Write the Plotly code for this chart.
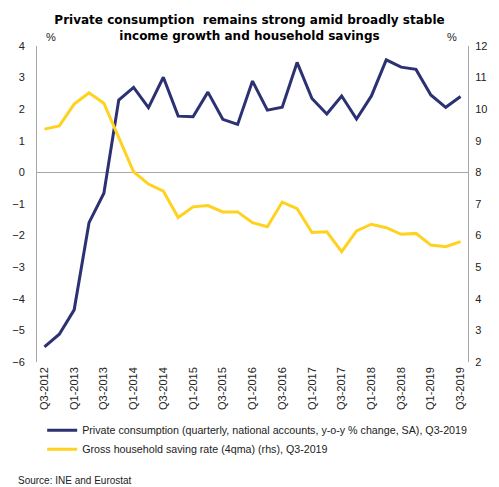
import plotly.graph_objects as go

quarters = ["Q3-2012", "Q4-2012", "Q1-2013", "Q2-2013", "Q3-2013", "Q4-2013",
            "Q1-2014", "Q2-2014", "Q3-2014", "Q4-2014", "Q1-2015", "Q2-2015",
            "Q3-2015", "Q4-2015", "Q1-2016", "Q2-2016", "Q3-2016", "Q4-2016",
            "Q1-2017", "Q2-2017", "Q3-2017", "Q4-2017", "Q1-2018", "Q2-2018",
            "Q3-2018", "Q4-2018", "Q1-2019", "Q2-2019", "Q3-2019"]

private_consumption = [-5.52, -5.12, -4.35, -1.59, -0.66, 2.29, 2.69, 2.05, 3.01, 1.78,
                       1.76, 2.54, 1.68, 1.52, 2.89, 1.97, 2.06, 3.48, 2.34, 1.85,
                       2.42, 1.69, 2.42, 3.56, 3.33, 3.26, 2.45, 2.06, 2.40]

saving_rate = [9.37, 9.47, 10.16, 10.52, 10.19, 9.13, 8.02, 7.63, 7.41, 6.57,
               6.91, 6.95, 6.75, 6.75, 6.41, 6.28, 7.06, 6.85, 6.10, 6.12,
               5.49, 6.15, 6.36, 6.25, 6.04, 6.07, 5.70, 5.65, 5.81]

tick_labels = quarters[::2]

name1 = "Private consumption (quarterly, national accounts, y-o-y % change, SA), Q3-2019"
name2 = "Gross household saving rate (4qma) (rhs), Q3-2019"

fig = go.Figure()
fig.add_trace(go.Scatter(x=quarters, y=private_consumption, name=name1, mode="lines",
                         line=dict(color="#2B3172", width=3)))
fig.add_trace(go.Scatter(x=quarters, y=saving_rate, name=name2, mode="lines", yaxis="y2",
                         line=dict(color="#FFD21F", width=3)))

axis_grey = "#A6A6A6"
fig.update_layout(
    width=499, height=487,
    margin=dict(l=31, r=26, t=46, b=125),
    paper_bgcolor="white", plot_bgcolor="white",
    font=dict(family="Liberation Sans, Arial, sans-serif", size=11, color="#222222"),
    title=dict(text="<b>Private consumption  remains strong amid broadly stable<br>income growth and household savings</b>",
               x=0.5, xanchor="center", y=0.95, yanchor="top",
               font=dict(family="DejaVu Sans, Verdana, sans-serif", size=12, color="black")),
    xaxis=dict(type="category", categoryorder="array", categoryarray=quarters,
               range=[-0.5, len(quarters) - 0.5],
               tickmode="array", tickvals=tick_labels, ticktext=tick_labels,
               tickangle=-90, tickfont=dict(size=11), showgrid=False, showline=False,
               zeroline=False, ticks="", ticklabelstandoff=2),
    yaxis=dict(range=[-6, 4], dtick=1, showgrid=False, zeroline=True, zerolinecolor=axis_grey,
               zerolinewidth=1, showline=True, linecolor=axis_grey, linewidth=1,
               ticks="", ticklabelstandoff=9),
    yaxis2=dict(range=[2, 12], dtick=1, overlaying="y", side="right", showgrid=False,
                zeroline=False, showline=True, linecolor=axis_grey, linewidth=1,
                ticks="", ticklabelstandoff=4),
    showlegend=True,
    legend=dict(x=0.012, y=-0.17, xanchor="left", yanchor="top", orientation="v",
                font=dict(size=10.7), bgcolor="rgba(0,0,0,0)", itemwidth=30),
    annotations=[
        dict(text="%", xref="paper", yref="paper", x=0.032, y=1.028, showarrow=False,
             xanchor="center", yanchor="middle", font=dict(size=11)),
        dict(text="%", xref="paper", yref="paper", x=0.964, y=1.028, showarrow=False,
             xanchor="center", yanchor="middle", font=dict(size=11)),
        dict(text="Source: INE and Eurostat", xref="paper", yref="paper", x=-0.048, y=-0.375,
             showarrow=False, xanchor="left", yanchor="middle", font=dict(size=10)),
    ],
)

fig.write_html("out.html")
